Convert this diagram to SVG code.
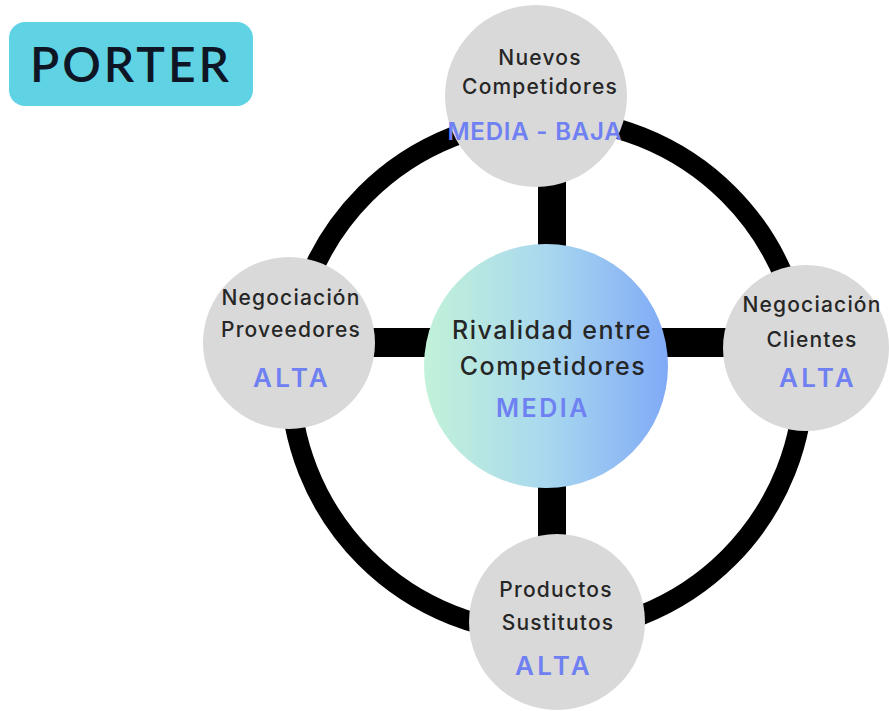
<svg xmlns="http://www.w3.org/2000/svg" width="889" height="711" viewBox="0 0 889 711">
  <defs>
    <linearGradient id="rivalGrad" x1="0" y1="0" x2="1" y2="0">
      <stop offset="0" stop-color="#c2f2d8"/>
      <stop offset="0.5" stop-color="#a9d8ef"/>
      <stop offset="1" stop-color="#80aaf6"/>
    </linearGradient>
    <style>
      .force { fill: #d9d9d9; }
      .lbl { font-family: "Inter", "Lato", sans-serif; font-size: 21px; fill: #262626; text-anchor: middle; font-weight: 500; letter-spacing: 1.2px; }
      .lvl { font-family: "Inter", "Lato", sans-serif; font-size: 26px; fill: #6f80f2; text-anchor: middle; font-weight: 600; letter-spacing: 3.2px; }
      .core { font-size: 25px; letter-spacing: 1.5px; }
      .bar { fill: #000; }
    </style>
  </defs>

  <rect width="889" height="711" fill="#ffffff"/>

  <!-- title badge -->
  <g id="title">
    <rect x="9" y="22" width="244" height="84" rx="16" fill="#5fd3e4"/>
    <text x="131" y="82" font-family="Lato, 'Noto Sans', sans-serif" font-size="48" font-weight="600" fill="#0e1626" text-anchor="middle" letter-spacing="3">PORTER</text>
  </g>

  <!-- connectors: outer ring and spokes -->
  <g id="connectors">
    <circle cx="547" cy="376" r="257" fill="none" stroke="#000" stroke-width="20"/>
    <rect class="bar" x="538" y="180" width="28" height="75"/>
    <rect class="bar" x="538" y="478" width="28" height="65"/>
    <rect class="bar" x="372" y="328" width="60" height="29"/>
    <rect class="bar" x="662" y="328" width="68" height="29"/>
  </g>

  <g id="nuevos">
    <circle class="force" cx="536" cy="96" r="91"/>
    <text class="lbl" x="540" y="65">Nuevos</text>
    <text class="lbl" x="540" y="94">Competidores</text>
    <text class="lvl" x="535" y="140" style="font-size:24px;letter-spacing:0.8px">MEDIA - BAJA</text>
  </g>

  <g id="proveedores">
    <circle class="force" cx="289" cy="343" r="86"/>
    <text class="lbl" x="291" y="305">Negociación</text>
    <text class="lbl" x="291" y="337">Proveedores</text>
    <text class="lvl" x="292" y="387">ALTA</text>
  </g>

  <g id="clientes">
    <circle class="force" cx="806" cy="348" r="83"/>
    <text class="lbl" x="812" y="312">Negociación</text>
    <text class="lbl" x="812" y="347">Clientes</text>
    <text class="lvl" x="818" y="387">ALTA</text>
  </g>

  <g id="sustitutos">
    <circle class="force" cx="557" cy="622" r="88"/>
    <text class="lbl" x="556" y="597">Productos</text>
    <text class="lbl" x="558" y="630">Sustitutos</text>
    <text class="lvl" x="554" y="675">ALTA</text>
  </g>

  <g id="rivalidad">
    <circle cx="546" cy="366" r="122" fill="url(#rivalGrad)"/>
    <text class="lbl core" x="552" y="339">Rivalidad entre</text>
    <text class="lbl core" x="553" y="375">Competidores</text>
    <text class="lvl" x="543" y="417" style="font-size:25px;letter-spacing:2.5px">MEDIA</text>
  </g>
</svg>
